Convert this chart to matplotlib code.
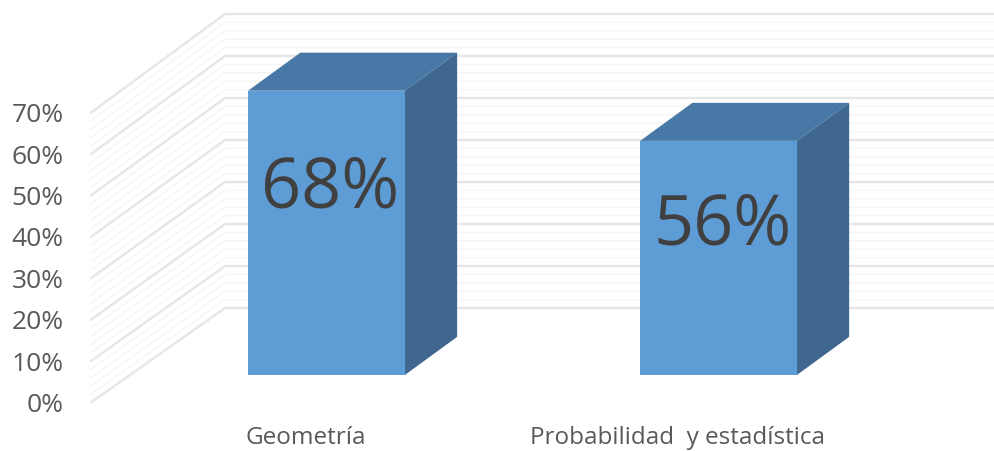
import numpy as np
import matplotlib
matplotlib.use("Agg")
import matplotlib.pyplot as plt
from matplotlib.patches import Polygon

categories = ["Geometría", "Probabilidad  y estadística"]
values = [0.68, 0.56]
value_labels = ["68%", "56%"]
tick_values = [0, 0.1, 0.2, 0.3, 0.4, 0.5, 0.6, 0.7]
tick_labels = ["0%", "10%", "20%", "30%", "40%", "50%", "60%", "70%"]
minor_values = [v / 100 for v in range(0, 71, 2)]

plt.rcParams['font.family'] = ['Open Sans', 'DejaVu Sans']

fig = plt.figure(figsize=(9.95, 4.51), dpi=100)
# axes fill the figure, x = category position, y = value on the bars' front plane
ax = fig.add_axes([0, 0, 1, 1])
ax.set_xlim(-0.833, 1.705)
ax.set_ylim(-0.182, 0.897)
ax.axis("off")

# depth of the bars
dx, dy = 0.133, 0.091
width = 0.40

# wall corners
front_x, back_x, end_x = -0.603, -0.259, 1.705
front_y0, back_y0 = -0.067, 0.160
front_k, back_k = 0.99, 1.005

for v in minor_values:
    major = round(v * 100) % 10 == 0
    col = "#e6e6e6" if major else "#f6f6f6"
    lw = 1.7 if major else 1.1
    xs = [front_x, back_x, end_x]
    ys = [front_y0 + front_k * v, back_y0 + back_k * v, back_y0 + back_k * v]
    ax.plot(xs, ys, color=col, lw=lw, solid_capstyle="butt", zorder=2 if major else 1)

for i, v in enumerate(values):
    ax.bar(i, v, width=width, color="#5e9cd6", zorder=5)
    l, r = i - width / 2, i + width / 2
    ax.add_patch(Polygon([(l, v), (r, v), (r + dx, v + dy), (l + dx, v + dy)],
                         color="#4878a6", lw=0, zorder=4))
    ax.add_patch(Polygon([(r, 0), (r + dx, dy), (r + dx, v + dy), (r, v)],
                         color="#3f678f", lw=0, zorder=4))

ax.text(0.01, 0.443, value_labels[0], ha="center", va="center", fontsize=50.5, color="#404040", zorder=6)
ax.text(1.01, 0.355, value_labels[1], ha="center", va="center", fontsize=50.5, color="#404040", zorder=6)

for v, t in zip(tick_values, tick_labels):
    ax.text(-0.671, front_y0 + front_k * v - 0.006, t, ha="right", va="center", fontsize=19, color="#595959")

# baseline kept high enough that the descender of the y stays inside the picture
ax.text(-0.054, -0.166, categories[0], ha="center", va="baseline", fontsize=17.5, color="#595959")
ax.text(0.894, -0.166, categories[1], ha="center", va="baseline", fontsize=17.5, color="#595959")

fig.savefig("out.png", dpi=100)
